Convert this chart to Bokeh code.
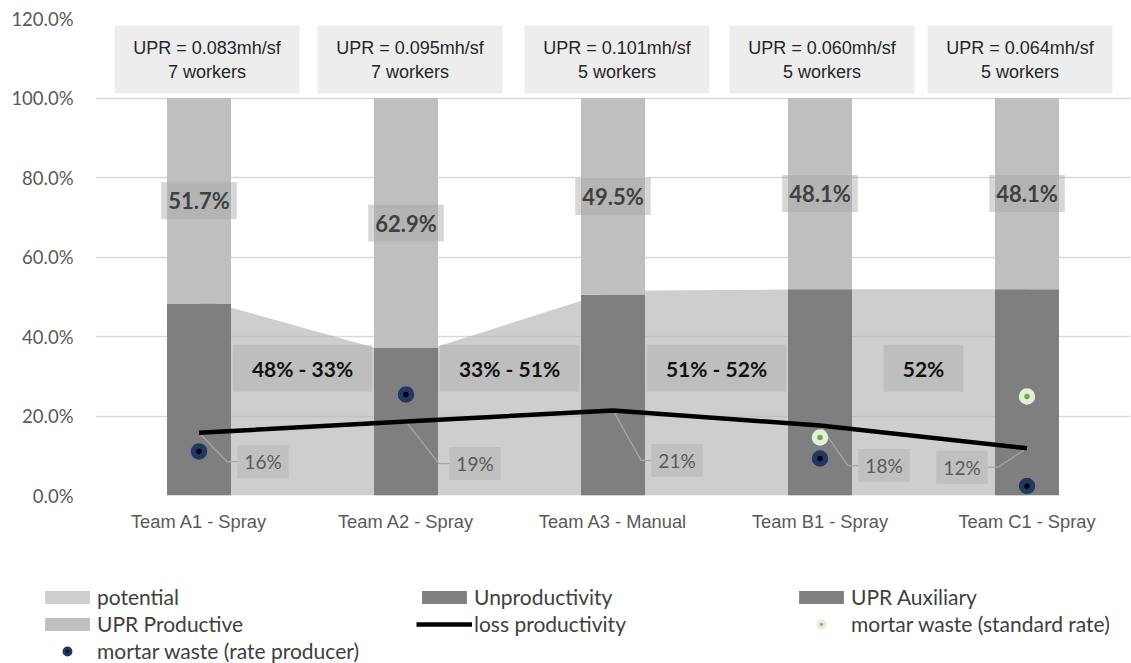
from bokeh.plotting import figure
from bokeh.models import Range1d, FixedTicker, PrintfTickFormatter, Legend, LegendItem
from bokeh.core.properties import value
from bokeh.embed import file_html
from bokeh.resources import INLINE

nan = float("nan")

# ---------------- data ----------------
teams = ["Team A1 - Spray", "Team A2 - Spray", "Team A3 - Manual", "Team B1 - Spray", "Team C1 - Spray"]
unproductivity = [48.3, 37.1, 50.5, 51.9, 51.9]
upr_productive = [51.7, 62.9, 49.5, 48.1, 48.1]
upr_auxiliary = [0, 0, 0, 0, 0]
potential = [49.5, 35.0, 51.5, 51.9, 51.9]
loss_productivity = [15.8, 18.6, 21.4, 17.6, 11.9]
loss_labels = ["16%", "19%", "21%", "18%", "12%"]
waste_standard = [nan, nan, nan, 14.6, 24.9]
waste_producer = [11.1, 25.4, nan, 9.3, 2.4]
upr_rate = ["0.083", "0.095", "0.101", "0.060", "0.064"]
workers = [7, 7, 5, 5, 5]
gap_labels = ["48% - 33%", "33% - 51%", "51% - 52%", "52%"]

# ---------------- layout ----------------
W, H_MAIN, H_LEG = 1131, 575, 88
LEFT, RIGHT, TOP, BOTTOM = 95, 1, 18, 80
FRAME_W = W - LEFT - RIGHT
FRAME_H = H_MAIN - TOP - BOTTOM
PX_X = FRAME_W / 5.0              # pixels per category
PX_Y = FRAME_H / 120.0            # pixels per percent
SANS = "Liberation Sans"

idx = list(range(len(teams)))
prod_top = [u + v for u, v in zip(unproductivity, upr_productive)]
aux_top = [t + a for t, a in zip(prod_top, upr_auxiliary)]

# shared styles
AREA_KW = dict(fill_color="#b3b3b3", fill_alpha=0.65)
DARK = dict(fill_color="#7f7f7f", line_color=None)
LIGHT = dict(fill_color="#bfbfbf", line_color=None)
LINE_KW = dict(line_color="black", line_width=4.5)
STD_KW = dict(fill_color="#70ad47", line_color="#e2f0d9")
PRD_KW = dict(fill_color="black", line_color="#1f3864")
bw = 64 / PX_X


def add_series(fig, **extra):
    r = {}
    r["area"] = fig.varea(x=idx, y1=[0] * len(idx), y2=potential, **AREA_KW, **extra)
    r["unprod"] = fig.vbar(x=idx, width=bw, bottom=0, top=unproductivity, **DARK, **extra)
    r["prod"] = fig.vbar(x=idx, width=bw, bottom=unproductivity, top=prod_top, **LIGHT, **extra)
    r["aux"] = fig.vbar(x=idx, width=bw, bottom=prod_top, top=aux_top, **DARK, **extra)
    return r


p = figure(width=W, height=H_MAIN, output_backend="svg", toolbar_location=None,
           x_range=Range1d(-0.5, 4.5), y_range=Range1d(0, 120),
           min_border_left=LEFT, min_border_right=RIGHT, min_border_top=TOP,
           min_border_bottom=BOTTOM)
p.outline_line_color = None
p.background_fill_color = "white"
p.border_fill_color = "white"

# axes
p.xaxis.ticker = FixedTicker(ticks=idx)
p.xaxis.major_label_overrides = {i: t for i, t in zip(idx, teams)}
p.xaxis.axis_line_color = None
p.xaxis.major_tick_line_color = None
p.xaxis.minor_tick_line_color = None
p.xaxis.major_tick_out = 0
p.xaxis.major_label_standoff = 15
p.xaxis.major_label_text_font = SANS
p.xaxis.major_label_text_font_size = "18.3px"
p.xaxis.major_label_text_color = "#595959"

p.yaxis.ticker = FixedTicker(ticks=[0, 20, 40, 60, 80, 100, 120])
p.yaxis.formatter = PrintfTickFormatter(format="%.1f%%")
p.yaxis.axis_line_color = None
p.yaxis.major_tick_line_color = None
p.yaxis.minor_tick_line_color = None
p.yaxis.major_tick_out = 0
p.yaxis.major_label_standoff = 22
p.yaxis.major_label_text_font = "Lato"
p.yaxis.major_label_text_font_size = "18.5px"
p.yaxis.major_label_text_color = "#595959"

p.xgrid.grid_line_color = None
p.ygrid.ticker = FixedTicker(ticks=[0, 20, 40, 60, 80, 100, 120])
p.ygrid.grid_line_color = "#d9d9d9"
p.ygrid.grid_line_width = 1.3

# potential area + stacked bars
add_series(p)

# UPR Productive labels
mid = [u + v / 2 for u, v in zip(unproductivity, upr_productive)]
p.text(x=idx, y=mid, text=[f"{v:.1f}%" for v in upr_productive],
       text_font=value("Lato"), text_font_style="bold", text_font_size="22px",
       text_color="#404040", text_align="center", text_baseline="middle",
       background_fill_color="#a6a6a6", background_fill_alpha=0.45,
       padding=dict(left=7, right=7, top=5, bottom=5))

# gap labels between teams
gx = [i + 0.5 for i in idx[:-1]]
gy = [32.0] * len(gx)
p.text(x=gx, y=gy, text=gap_labels,
       text_font=value("Lato"), text_font_style="bold", text_font_size="21px",
       text_color="#111111", text_align="center", text_baseline="middle",
       background_fill_color="#a6a6a6", background_fill_alpha=0.38,
       padding=dict(left=19, right=19, top=11, bottom=11))

# top info boxes (slightly shifted text boxes, as placed in the original)
box_dx = [8, 4, 4, 2, -7]
bx = [i + d / PX_X for i, d in zip(idx, box_dx)]
p.rect(x=bx, y=[109.7] * len(idx), width=185, height=68,
       width_units="screen", height_units="screen", fill_color="#ededed", line_color=None)
p.text(x=bx, y=[112.6] * len(idx), text=[f"UPR = {u}mh/sf" for u in upr_rate],
       text_font=value(SANS), text_font_size="18px",
       text_color="#262626", text_align="center", text_baseline="middle")
p.text(x=bx, y=[106.6] * len(idx), text=[f"{w} workers" for w in workers],
       text_font=value(SANS), text_font_size="18px",
       text_color="#262626", text_align="center", text_baseline="middle")

# loss productivity data labels with leader lines
label_dx = [64, 69, 64, 64, -65]
label_dy = [29, 42, 50, 40, 19]
half_w = 26
xs, ys = [], []
for i, v, dx, dy in zip(idx, loss_productivity, label_dx, label_dy):
    sgn = 1 if dx > 0 else -1
    edge = dx - sgn * half_w
    elbow = edge - sgn * 10
    xs.append([i, i + elbow / PX_X, i + edge / PX_X])
    ys.append([v, v - dy / PX_Y, v - dy / PX_Y])
p.multi_line(xs=xs, ys=ys, line_color="#a6a6a6", line_width=1.3)

p.line(x=idx, y=loss_productivity, line_join="round", **LINE_KW)

p.text(x=idx, y=loss_productivity, text=loss_labels, x_offset=label_dx, y_offset=label_dy,
       text_font=value("Lato"), text_font_size="19px", text_color="#595959",
       text_align="center", text_baseline="middle",
       background_fill_color="#a6a6a6", background_fill_alpha=0.35,
       padding=dict(left=7, right=7, top=5, bottom=5))

# mortar waste markers
p.scatter(x=idx, y=waste_standard, size=11, line_width=5.5, **STD_KW)
p.scatter(x=idx, y=waste_producer, size=11, line_width=5.5, **PRD_KW)

# ---------------- legend (separate strip below the chart) ----------------
# the same series serve as legend proxies here; they are muted with a fully
# transparent muted glyph, so only the legend swatches are visible
lg = figure(width=W, height=H_LEG, output_backend="svg", toolbar_location=None,
            x_range=Range1d(-0.5, 4.5), y_range=Range1d(0, 120),
            x_axis_location=None, y_axis_location=None,
            min_border_left=39, min_border_right=0, min_border_top=0, min_border_bottom=0)
lg.outline_line_color = None
lg.grid.visible = False
lg.background_fill_color = "white"
lg.border_fill_color = "white"

HIDE = dict(muted_alpha=0)
lr = add_series(lg, **HIDE)
l_loss = lg.line(x=idx, y=loss_productivity, **LINE_KW, **HIDE)
l_std = lg.scatter(x=idx, y=waste_standard, size=11, line_width=3.5, **STD_KW, **HIDE)
l_prd = lg.scatter(x=idx, y=waste_producer, size=11, line_width=3.5, **PRD_KW, **HIDE)
for r in list(lr.values()) + [l_loss, l_std, l_prd]:
    r.muted = True

legend = Legend(items=[
    LegendItem(label="potential", renderers=[lr["area"]]),
    LegendItem(label="Unproductivity", renderers=[lr["unprod"]]),
    LegendItem(label="UPR Auxiliary", renderers=[lr["aux"]]),
    LegendItem(label="UPR Productive", renderers=[lr["prod"]]),
    LegendItem(label="loss productivity", renderers=[l_loss]),
    LegendItem(label="mortar waste (standard rate)", renderers=[l_std]),
    LegendItem(label="mortar waste (rate producer)", renderers=[l_prd]),
], orientation="horizontal", ncols=3, location="bottom_left", click_policy="none",
   glyph_width=56, glyph_height=16, label_width=317, label_standoff=2, spacing=2,
   padding=0, margin=0, border_line_color=None, background_fill_alpha=0,
   label_text_font="Lato", label_text_font_size="21px", label_text_color="#404040",
   label_height=20)
lg.add_layout(legend, "center")

open("out.html", "w").write(file_html([p, lg], INLINE))
